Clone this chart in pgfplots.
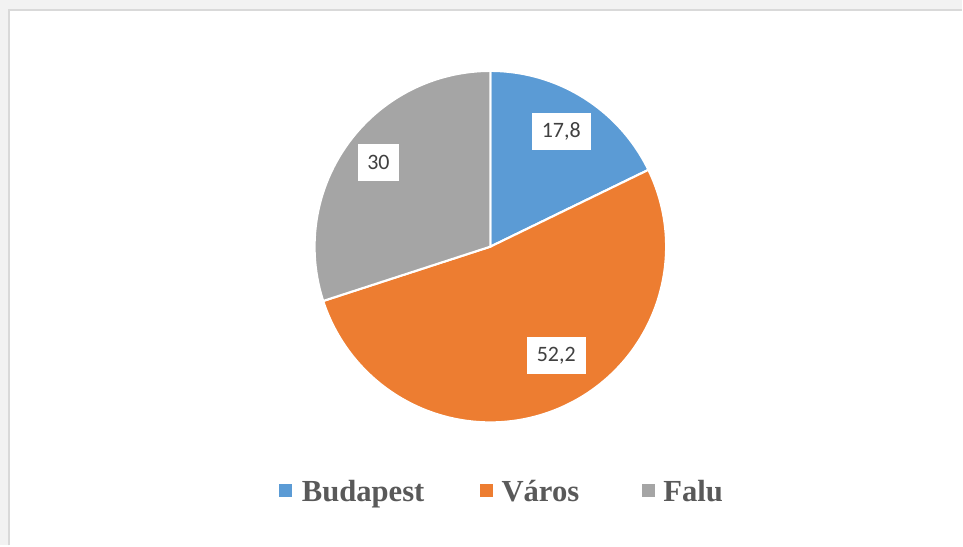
\documentclass[border=0pt]{standalone}
\usepackage{pgfplots}
\pgfplotsset{compat=1.18}
\usepackage{fontspec}
\setmainfont{Liberation Serif}
\newfontfamily\lblfont{Carlito}

\definecolor{cBud}{HTML}{5B9BD5}
\definecolor{cVar}{HTML}{ED7D31}
\definecolor{cFal}{HTML}{A5A5A5}
\definecolor{frameline}{HTML}{D9D9D9}
\definecolor{outside}{HTML}{F2F2F2}
\definecolor{lbltext}{HTML}{404040}
\definecolor{legtext}{HTML}{595959}

% shares (percent): Budapest, Város, Falu
\def\vBud{17.8}
\def\vVar{52.2}
\def\vFal{30}
\pgfmathsetmacro\aBud{90-3.6*\vBud}
\pgfmathsetmacro\aVar{\aBud-3.6*\vVar}
\pgfmathsetmacro\aFal{\aVar-3.6*\vFal}
\def\R{132pt}

\begin{document}
\begin{tikzpicture}
\begin{axis}[
    x=0.75pt, y=0.75pt,
    xmin=0, xmax=963, ymin=0, ymax=546,
    y dir=reverse,
    hide axis, clip=false,
]
  % screenshot frame
  \fill[outside] (axis cs:0,0) rectangle (axis cs:963,546);
  \fill[white] (axis cs:9,10) rectangle (axis cs:963,546);
  \draw[frameline, line width=2pt] (axis cs:9,546) -- (axis cs:9,10) -- (axis cs:963,10);

  % slices, clockwise from 12 o'clock
  \fill[cBud, draw=white, line width=1.6pt] (axis cs:491,247) -- ++(90:\R)
      arc[start angle=90, end angle=\aBud, radius=\R] -- cycle;
  \fill[cVar, draw=white, line width=1.6pt] (axis cs:491,247) -- ++(\aBud:\R)
      arc[start angle=\aBud, end angle=\aVar, radius=\R] -- cycle;
  \fill[cFal, draw=white, line width=1.6pt] (axis cs:491,247) -- ++(\aVar:\R)
      arc[start angle=\aVar, end angle=\aFal, radius=\R] -- cycle;

  % data labels
  \tikzset{lbl/.style={fill=white, text=lbltext, font=\lblfont\fontsize{16.5}{18}\selectfont,
      inner sep=0pt, minimum height=28pt, align=center}}
  \node[lbl, minimum width=44pt] at (axis cs:562,132) {17,8};
  \node[lbl, minimum width=44pt] at (axis cs:557,356) {52,2};
  \node[lbl, minimum width=31pt] at (axis cs:379,163) {30};

  % legend
  \tikzset{legtxt/.style={anchor=base west, inner sep=0pt, text=legtext,
      font=\bfseries\fontsize{23}{26}\selectfont}}
  \fill[cBud] (axis cs:279,485) rectangle (axis cs:292,498);
  \node[legtxt] at (axis cs:302,502) {Budapest};
  \fill[cVar] (axis cs:481,485) rectangle (axis cs:494,498);
  \node[legtxt] at (axis cs:502,502) {Város};
  \fill[cFal] (axis cs:643,485) rectangle (axis cs:656,498);
  \node[legtxt] at (axis cs:664,502) {Falu};
\end{axis}
\end{tikzpicture}
\end{document}
